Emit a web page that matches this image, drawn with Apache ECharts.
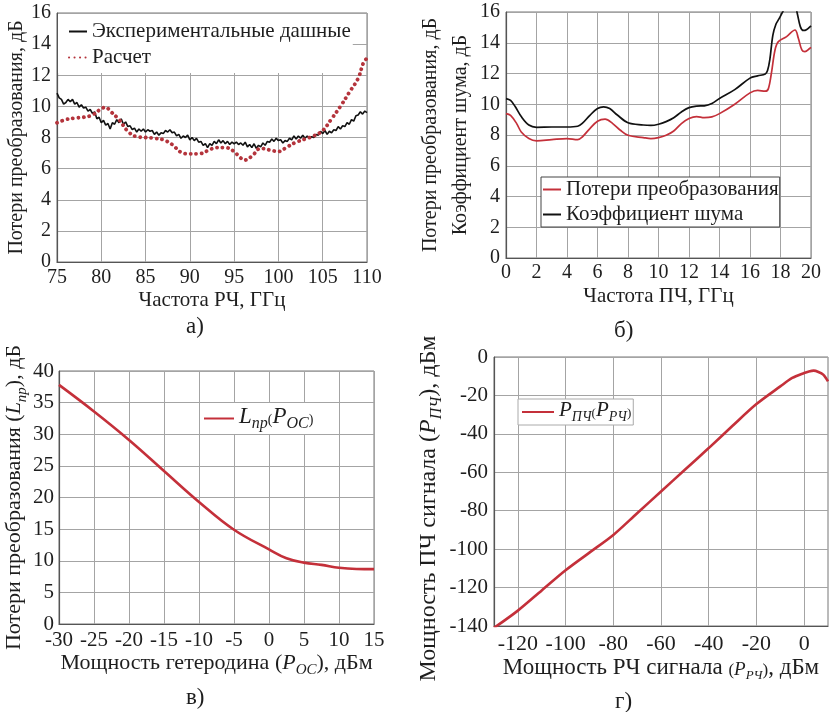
<!DOCTYPE html>
<html>
<head>
<meta charset="utf-8">
<script src="https://cdn.jsdelivr.net/npm/echarts@6/dist/echarts.min.js"></script>
<style>
  html, body { margin: 0; padding: 0; background: #fff; }
  #chart { width: 829px; height: 712px; }
</style>
</head>
<body>
<div id="chart"></div>
<script>
// ---- panel a: conversion loss vs RF frequency ----
const rfStart = 75, rfStep = 0.25;
const expLoss = [
  10.85, 10.55, 10.45, 10.15,  10.25, 10.45, 10.3, 10.45,  10.15, 10.25, 9.95, 10.1,
  9.9, 9.95, 9.7, 9.8,  9.55, 9.65, 9.2, 9.3,  8.95, 9.1, 8.8, 8.9,
  8.55, 8.95, 8.85, 9.15,  8.95, 9.2, 8.85, 9.0,  8.7, 8.75, 8.5, 8.6,
  8.35, 8.55, 8.4, 8.55,  8.35, 8.5, 8.4, 8.45,  8.2, 8.35, 8.15, 8.3,
  8.25, 8.45, 8.35, 8.5,  8.3, 8.35, 8.1, 8.2,  7.95, 8.1, 8.0, 8.15,
  7.85, 8.0, 7.8, 7.95,  7.7, 7.75, 7.5, 7.6,  7.35, 7.6, 7.5, 7.75,
  7.6, 7.85, 7.65, 7.8,  7.6, 7.75, 7.55, 7.7,  7.6, 7.7, 7.55, 7.65,
  7.5, 7.7, 7.4, 7.55,  7.35, 7.6, 7.3, 7.5,  7.4, 7.65, 7.5, 7.75,
  7.7, 7.9, 7.75, 7.95,  7.8, 7.85, 7.65, 7.8,  7.75, 7.95, 7.85, 8.1,
  7.9, 8.1, 7.95, 8.15,  7.95, 8.1, 7.95, 8.05,  8.0, 8.2, 8.15, 8.4,
  8.25, 8.45, 8.2, 8.4,  8.3, 8.5, 8.45, 8.7,  8.55, 8.75, 8.7, 8.95,
  8.85, 9.15, 9.05, 9.4,  9.45, 9.65, 9.5, 9.7,  9.6
];
const calcFreq = [75, 76, 77, 78, 79, 80, 80.5, 81, 82, 83, 84, 85, 86, 87, 88, 89, 90, 91, 92, 93,
  94, 95, 95.6, 96.2, 97, 98, 99, 100, 101, 102, 103, 104, 105, 106, 107, 108, 109, 109.6, 110];
const calcLoss = [8.95, 9.15, 9.25, 9.3, 9.45, 9.85, 9.95, 9.7, 9.15, 8.4, 8.05, 8.0, 7.95, 7.85, 7.55, 7.05, 6.95, 6.95, 7.15, 7.35,
  7.35, 7.1, 6.75, 6.55, 6.8, 7.3, 7.2, 7.1, 7.4, 7.7, 7.9, 8.1, 8.45, 9.2, 10.0, 10.9, 11.8, 12.8, 13.1];

// ---- panel b: loss and noise figure vs IF frequency ----
const nfFreq = [0, 0.3, 0.6, 1.0, 1.5, 2, 3, 4, 4.7, 5, 5.5, 6, 6.4, 6.8, 7.3, 8, 9, 9.5, 10, 10.5,
  11, 11.5, 12, 12.5, 13, 13.5, 14, 15, 16, 16.5, 17, 17.15, 17.3, 17.5, 17.7, 17.9, 18.2, 18.6, 18.9, 19.1,
  19.3, 19.5, 19.7, 20];
const noiseFig = [10.37, 10.25, 9.85, 9.2, 8.65, 8.5, 8.52, 8.52, 8.57, 8.75, 9.28, 9.72, 9.83, 9.72, 9.3, 8.8, 8.65, 8.62, 8.7, 8.87,
  9.12, 9.5, 9.78, 9.88, 9.9, 10.05, 10.38, 10.95, 11.7, 11.85, 11.97, 12.2, 12.9, 14.5, 15.2, 15.55, 16.1, 16.6, 16.6, 15.9,
  15.05, 14.8, 14.85, 15.1];
const clFreq = [0, 0.3, 0.7, 1.0, 1.5, 2, 3, 4, 4.7, 5, 5.5, 6, 6.5, 7, 7.5, 8, 9, 9.5, 10, 10.5,
  11, 11.5, 12, 12.5, 13, 13.5, 14, 15, 16, 16.5, 17, 17.2, 17.4, 17.64, 17.86, 18.4, 18.95, 19.17, 19.4, 19.6,
  19.93, 20];
const convLoss = [9.39, 9.28, 8.74, 8.2, 7.77, 7.62, 7.7, 7.77, 7.7, 7.87, 8.42, 8.9, 9.03, 8.74, 8.31, 7.98, 7.83, 7.77, 7.83, 7.98,
  8.26, 8.74, 9.07, 9.2, 9.13, 9.18, 9.39, 10.0, 10.74, 10.9, 10.85, 11.0, 12.0, 13.53, 14.07, 14.4, 14.83, 14.29, 13.53, 13.42,
  13.64, 13.7];

// ---- panel c: loss vs LO power ----
const loPower = [-30, -25, -20, -15, -10, -5, 0, 2.5, 5, 7.5, 10, 12.5, 15];
const loLoss = [37.8, 33.6, 29.1, 24.2, 19.3, 14.9, 11.8, 10.4, 9.7, 9.35, 8.9, 8.7, 8.67];

// ---- panel d: IF power vs RF power ----
const rfPower = [-130, -120, -110, -100, -90, -80, -70, -60, -50, -40, -30, -20, -10, -5, 0, 2, 4, 6, 8, 10];
const ifPower = [-141, -132, -121.5, -111, -101.8, -92.6, -81.3, -70, -58.7, -47.4, -35.8, -24.5, -15.3, -10.9, -8.3, -7.5, -7.1, -7.8, -9.2, -12.7];
const rfTicks = [-120, -100, -80, -60, -40, -20, 0];

const captions = ['а)', 'б)', 'в)', 'г)'];

const FONT = 'Liberation Serif';
const INK = '#1e1e1e';
const RED = '#c4303a';
const DOT_RED = '#b4343c';

function pairs(xs, ys) {
  return xs.map((x, i) => [x, ys[i]]);
}

// rich styles for names with italic letters and subscripts
function rich(size) {
  const base = { fontFamily: FONT, color: INK, verticalAlign: 'bottom' };
  const lift = Math.round(size * 0.16);
  return {
    n: Object.assign({ fontSize: size, padding: [0, 0, lift, 0] }, base),
    i: Object.assign({ fontSize: size, fontStyle: 'italic', padding: [0, 0, lift, 0] }, base),
    s: Object.assign({ fontSize: Math.round(size * 0.68), fontStyle: 'italic', padding: [0, 0, 0, 0] }, base),
    sm: Object.assign({ fontSize: Math.round(size * 0.72), padding: [0, 0, lift, 0] }, base),
    si: Object.assign({ fontSize: Math.round(size * 0.84), fontStyle: 'italic', padding: [0, 0, lift, 0] }, base),
    ss: Object.assign({ fontSize: Math.round(size * 0.58), fontStyle: 'italic', padding: [0, 0, 1, 0] }, base),
    p: Object.assign({ fontSize: Math.round(size * 0.62), padding: [0, 0, lift + 1, 0] }, base),
    gap: Object.assign({ fontSize: size, width: 34 }, base)
  };
}

function axisCommon(name, gap, margin, labelSize, nameSize) {
  return {
    type: 'value',
    name: name, nameLocation: 'middle', nameGap: gap,
    nameTextStyle: { fontFamily: FONT, fontSize: nameSize, color: INK, rich: rich(nameSize) },
    axisLine: { show: true, onZero: false, lineStyle: { color: '#555', width: 1.2 } },
    axisTick: { show: false },
    axisLabel: { fontFamily: FONT, fontSize: labelSize, color: INK, margin: margin },
    splitLine: { show: true, lineStyle: { color: '#a4a4a4', width: 1 } }
  };
}

function xAx(grid, min, max, interval, gap, margin, name, labelSize, nameSize, extra) {
  return Object.assign(axisCommon(name, gap, margin, labelSize, nameSize),
    { gridIndex: grid, min: min, max: max, interval: interval }, extra || {});
}

function yAx(grid, min, max, interval, gap, margin, name, labelSize, nameSize, extra) {
  return Object.assign(axisCommon(name, gap, margin, labelSize, nameSize),
    { gridIndex: grid, min: min, max: max, interval: interval, nameRotate: 90 }, extra || {});
}

const gridBase = { show: true, borderColor: '#777', borderWidth: 1, backgroundColor: 'transparent', containLabel: false, outerBoundsMode: 'none' };

// legend icons: line only, hide the symbol ECharts puts in the middle
const noSymbol = { opacity: 0 };

const chart = echarts.init(document.getElementById('chart'), null, { renderer: 'canvas' });

chart.setOption({
  animation: false,
  backgroundColor: '#fff',
  textStyle: { fontFamily: FONT },
  title: [
    { text: captions[0], left: 186, top: 315 },
    { text: captions[1], left: 614, top: 319 },
    { text: captions[2], left: 186, top: 686 },
    { text: captions[3], left: 615, top: 690 }
  ].map(t => Object.assign(t, { padding: 0, textStyle: { fontFamily: FONT, fontSize: 23, fontWeight: 'normal', color: INK } })),
  grid: [
    Object.assign({ left: 57, top: 13, width: 310, height: 249 }, gridBase),
    Object.assign({ left: 506, top: 12, width: 305, height: 246 }, gridBase),
    Object.assign({ left: 59, top: 371, width: 315, height: 253 }, gridBase),
    Object.assign({ left: 494, top: 357, width: 334, height: 269 }, gridBase)
  ],
  xAxis: [
    xAx(0, 75, 110, 5, 28, 6, 'Частота РЧ, ГГц', 20, 21),
    xAx(1, 0, 20, 2, 28, 5, 'Частота ПЧ, ГГц', 20, 21),
    xAx(2, -30, 15, 5, 26, 6, '{n|Мощность гетеродина (}{i|P}{s|OC}{n|), дБм}', 21, 22),
    xAx(3, -130, 10, 10, 30, 7, '{n|Мощность РЧ сигнала }{sm|(}{si|P}{ss|РЧ}{sm|)}{n|, дБм}', 22, 23, {
      axisTick: { show: false, customValues: rfTicks },
      axisLabel: { fontFamily: FONT, fontSize: 22, color: INK, margin: 7, customValues: rfTicks }
    })
  ],
  yAxis: [
    yAx(0, 0, 16, 2, 30, 6, 'Потери преобразования, дБ', 20, 20),
    yAx(1, 0, 16, 2, 7, 6, 'Потери преобразования, дБ\nКоэффициент шума, дБ', 20, 20, {
      nameTextStyle: { fontFamily: FONT, fontSize: 20, color: INK, lineHeight: 30 }
    }),
    yAx(2, 0, 40, 5, 26, 5, '{n|Потери преобразования (}{i|L}{s|np}{n|), дБ}', 21, 22),
    yAx(3, -140, 0, 20, 49, 6, '{n|Мощность ПЧ сигнала (}{i|P}{s|ПЧ}{n|), дБм}{gap|\u00a0\u00a0\u00a0\u00a0\u00a0\u00a0\u00a0\u00a0\u00a0\u00a0}', 21, 24)
  ],
  legend: [
    {
      data: ['Экспериментальные дашные', 'Расчет'],
      orient: 'vertical', left: 58, top: 14, padding: [7, 2, 5, 10], itemGap: 5,
      itemWidth: 18, itemHeight: 14, backgroundColor: '#fff', selectedMode: false,
      itemStyle: noSymbol,
      textStyle: { fontFamily: FONT, fontSize: 21, color: INK }
    },
    {
      data: ['Потери преобразования', 'Коэффициент шума'],
      orient: 'vertical', left: 541, top: 177, padding: [2, 1, 2, 1], itemGap: 4,
      itemWidth: 18, itemHeight: 14, backgroundColor: '#fff', borderColor: '#444', borderWidth: 1,
      selectedMode: false, itemStyle: noSymbol,
      textStyle: { fontFamily: FONT, fontSize: 21, color: INK }
    },
    {
      data: ['Lnp'],
      left: 202, top: 403, padding: [2, 6, 2, 1], itemWidth: 30, itemHeight: 14,
      backgroundColor: '#fff', selectedMode: false, itemStyle: noSymbol,
      formatter: () => '{i|L}{s|np}{p|(}{i|P}{s|OC}{p|)}',
      textStyle: { fontFamily: FONT, fontSize: 22, color: INK, rich: rich(23) }
    },
    {
      data: ['Pif'],
      left: 518, top: 399, padding: [1, 2, 1, 3], itemWidth: 32, itemHeight: 14,
      backgroundColor: '#fff', borderColor: '#aaa', borderWidth: 1, selectedMode: false,
      itemStyle: noSymbol,
      formatter: () => '{i|P}{s|ПЧ}{p|(}{i|P}{s|РЧ}{p|)}',
      textStyle: { fontFamily: FONT, fontSize: 21, color: INK, rich: rich(21) }
    }
  ],
  series: [
    {
      name: 'Экспериментальные дашные', type: 'line', xAxisIndex: 0, yAxisIndex: 0,
      data: expLoss.map((v, i) => [rfStart + i * rfStep, v]),
      symbol: 'none', color: '#111',
      lineStyle: { color: '#111', width: 1.6 }
    },
    {
      name: 'Расчет', type: 'line', xAxisIndex: 0, yAxisIndex: 0,
      data: pairs(calcFreq, calcLoss), smooth: 0.4,
      symbol: 'none', color: DOT_RED,
      lineStyle: { color: DOT_RED, width: 3.8, type: [0.1, 5.4], cap: 'round' }
    },
    {
      name: 'Потери преобразования', type: 'line', xAxisIndex: 1, yAxisIndex: 1,
      data: pairs(clFreq, convLoss), smooth: 0.35,
      symbol: 'none', color: RED,
      lineStyle: { color: RED, width: 1.7 }
    },
    {
      name: 'Коэффициент шума', type: 'line', xAxisIndex: 1, yAxisIndex: 1,
      data: pairs(nfFreq, noiseFig), smooth: 0.35,
      symbol: 'none', color: '#111',
      lineStyle: { color: '#111', width: 1.7 }
    },
    {
      name: 'Lnp', type: 'line', xAxisIndex: 2, yAxisIndex: 2,
      data: pairs(loPower, loLoss), smooth: 0.4,
      symbol: 'none', color: RED,
      lineStyle: { color: RED, width: 2.6 }
    },
    {
      name: 'Pif', type: 'line', xAxisIndex: 3, yAxisIndex: 3,
      data: pairs(rfPower, ifPower), smooth: 0.3,
      symbol: 'none', color: RED,
      lineStyle: { color: RED, width: 2.6 }
    }
  ]
});
</script>
</body>
</html>
